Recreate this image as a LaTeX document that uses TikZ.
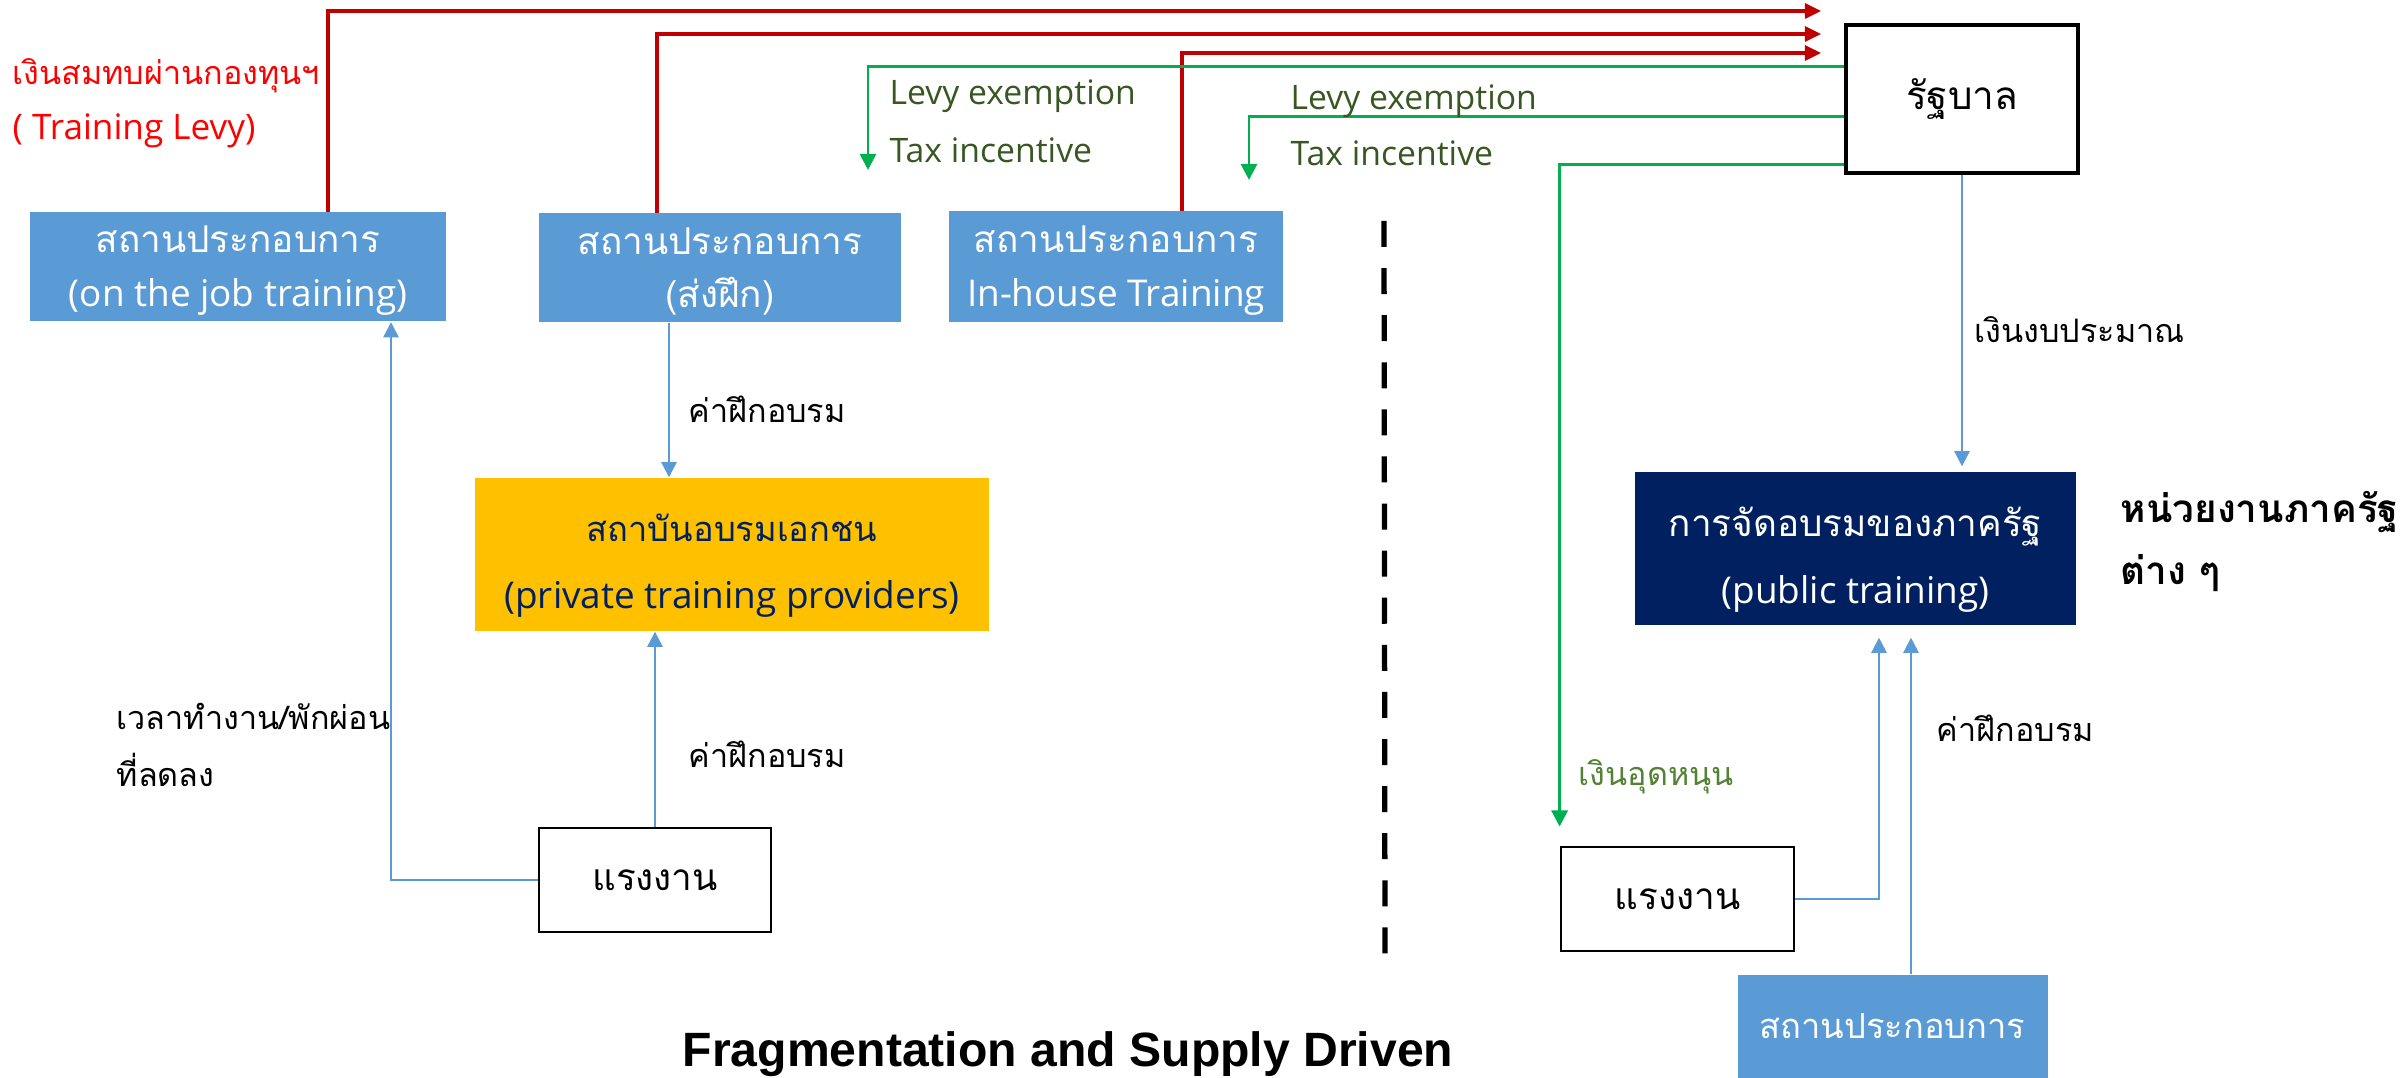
\documentclass[tikz,border=0pt]{standalone}
\usepackage{fontspec}
\setmainfont{Open Sans}
\newfontfamily\thai[Script=Thai]{Loma}
\newfontfamily\headfont{Liberation Sans}
\usetikzlibrary{arrows.meta,calc}

\definecolor{firmblue}{HTML}{5B9BD5}
\definecolor{levyred}{HTML}{C00000}
\definecolor{notered}{HTML}{FF0000}
\definecolor{taxgreen}{HTML}{00B050}
\definecolor{labelgreen}{HTML}{385723}
\definecolor{subgreen}{HTML}{548235}
\definecolor{navy}{HTML}{002060}
\definecolor{gold}{HTML}{FFC000}

\tikzset{
  firm/.style={fill=firmblue, text=white, align=center, inner sep=0pt, minimum height=1.09cm, font=\fontsize{10.5}{15.2}\selectfont},
  plainbox/.style={draw=black, line width=0.8pt, fill=white, inner sep=0pt, font=\thai\fontsize{10.5}{13}\selectfont},
  bigbox/.style={align=center, inner sep=0pt, minimum height=1.53cm, font=\fontsize{10.5}{19}\selectfont},
  note/.style={anchor=base west, inner sep=0pt, font=\thai\fontsize{9.2}{12}\selectfont},
  greennote/.style={anchor=base west, inner sep=0pt, text=labelgreen, font=\fontsize{9.6}{12}\selectfont},
  levyline/.style={color=levyred, line width=0.9pt, -{Triangle[length=4.6pt,width=4.3pt]}},
  taxline/.style={color=taxgreen, line width=0.8pt, -{Triangle[length=4.6pt,width=4.6pt]}},
  feeline/.style={color=firmblue, line width=0.65pt, -{Triangle[length=4.3pt,width=4.3pt]}},
}
% pushes a two-line box text a little down
\def\low#1{\rule{0pt}{#1pt}}

\begin{document}
\begin{tikzpicture}
	%%%%% START %%%%%
	\useasboundingbox (0, 0) rectangle (24.02, 10.78);
	
	% left side: firms, private providers, workers
	\node[firm, minimum width=4.16cm] (ojt) at (2.38, 8.11) {{\thai\low{9.6}สถานประกอบการ}\\(on the job training)};
	\node[firm, minimum width=3.62cm] (send) at (7.20, 8.10) {{\thai\low{9.6}สถานประกอบการ}\\{\thai (ส่งฝึก)}};
	\node[firm, minimum width=3.34cm, minimum height=1.11cm] (inhouse) at (11.16, 8.11) {{\thai\low{9.6}สถานประกอบการ}\\In-house Training};
	\node[bigbox, fill=gold, text=navy, minimum width=5.14cm] (pvt) at (7.32, 5.235) {{\thai\fontsize{9.8}{12}\selectfont\low{14}สถาบันอบรมเอกชน}\\(private training providers)};
	\node[plainbox, minimum width=2.32cm, minimum height=1.04cm] (wk1) at (6.55, 1.98) {แรงงาน};
	
	% right side: government, public training
	\node[plainbox, line width=0.9pt, minimum width=2.32cm, minimum height=1.48cm, font=\thai\fontsize{11}{13}\selectfont] (gov) at (19.62, 9.79) {รัฐบาล};
	\node[bigbox, fill=navy, text=white, minimum width=4.41cm] (pub) at (18.555, 5.295) {{\thai\low{14.8}การจัดอบรมของภาครัฐ}\\(public training)};
	\node[plainbox, minimum width=2.33cm, minimum height=1.04cm] (wk2) at (16.775, 1.79) {แรงงาน};
	\node[firm, font=\thai\fontsize{9.8}{13}\selectfont, minimum width=3.10cm, minimum height=1.03cm] (firm2) at (18.925, 0.515) {สถานประกอบการ};
	
	% levy paid in
	\coordinate (levyA) at (18.21, 10.67);
	\coordinate (levyB) at (18.21, 10.44);
	\coordinate (levyC) at (18.21, 10.25);
	\draw[levyline] ($(ojt.north)+(0.90,0)$) |- (levyA);
	\draw[levyline] ($(send.north)+(-0.63,0)$) |- (levyB);
	\draw[levyline] ($(inhouse.north)+(0.66,0)$) |- (levyC);
	\node[note, text=notered] (levyth) at (0.12, 9.93) {เงินสมทบผ่านกองทุนฯ};
	\node[greennote, text=notered, font=\fontsize{10}{12}\selectfont] (levyen) at (0.12, 9.38) {( Training Levy)};
	
	% exemptions and subsidy
	\coordinate (exA) at (8.68, 9.08);
	\coordinate (exB) at (12.49, 8.98);
	\draw[taxline] ($(gov.north west)+(0,-0.43)$) -| (exA);
	\draw[taxline] ($(gov.north west)+(0,-0.93)$) -| (exB);
	\draw[taxline, shorten >=0.19cm] ($(gov.north west)+(0,-1.41)$) -| (wk2.north west);
	\node[greennote] (levyexA) at (8.89, 9.73) {Levy exemption};
	\node[greennote] (taxA) at (8.89, 9.15) {Tax incentive};
	\node[greennote] (levyexB) at (12.90, 9.68) {Levy exemption};
	\node[greennote] (taxB) at (12.90, 9.12) {Tax incentive};
	\node[note, text=subgreen] (subsidy) at (15.78, 2.92) {เงินอุดหนุน};
	
	% training fees and time
	\draw[feeline] ($(send.south)+(-0.51,0)$) coordinate (sendfee) -- (sendfee |- pvt.north);
	\draw[feeline] (wk1.north) -- (wk1.north |- pvt.south);
	\draw[feeline] (wk1.west) -| ($(ojt.south)+(1.53,0)$);
	\draw[feeline, shorten >=0.05cm] (gov.south) -- (gov.south |- pub.north);
	\draw[feeline, shorten >=0.12cm] (wk2.east) -| ($(pub.south)+(0.235,0)$);
	\draw[feeline, shorten >=0.12cm] ($(firm2.north)+(0.185,0)$) coordinate (firmfee) -- (firmfee |- pub.south);
	\node[note] (feeA) at (6.88, 6.55) {ค่าฝึกอบรม};
	\node[note] (feeB) at (6.88, 3.10) {ค่าฝึกอบรม};
	\node[note] (cutA) at (1.16, 3.48) {เวลาทำงาน/พักผ่อน};
	\node[note] (cutB) at (1.16, 2.91) {ที่ลดลง};
	\node[note] (budget) at (19.74, 7.35) {เงินงบประมาณ};
	\node[note] (feeC) at (19.36, 3.36) {ค่าฝึกอบรม};
	\node[note, font=\thai\bfseries\fontsize{11}{13}\selectfont] (agencyA) at (21.20, 5.55) {หน่วยงานภาครัฐ};
	\node[note, font=\thai\bfseries\fontsize{11}{13}\selectfont] (agencyB) at (21.20, 4.93) {ต่าง ๆ};
	
	% divider and title
	\draw[line width=1.5pt, dash pattern=on 7.4pt off 6pt] (13.84, 8.57) -- (13.85, 1.04);
	\node[anchor=base, inner sep=0pt, font=\headfont\bfseries\fontsize{13.7}{16}\selectfont] (title) at (10.68, 0.11) {Fragmentation and Supply Driven};
	
	%%%%% END %%%%%
\end{tikzpicture}
\end{document}
